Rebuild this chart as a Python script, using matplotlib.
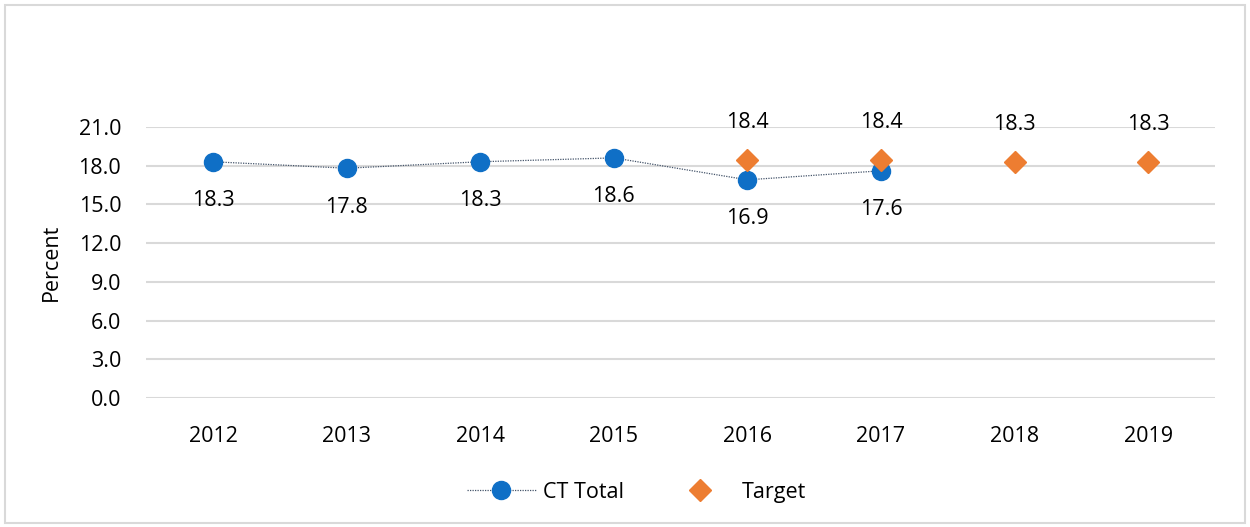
import matplotlib.pyplot as plt
from matplotlib.patches import Rectangle

# Data
years = [2012, 2013, 2014, 2015, 2016, 2017, 2018, 2019]
ct_years = [2012, 2013, 2014, 2015, 2016, 2017]
ct_total = [18.3, 17.8, 18.3, 18.6, 16.9, 17.6]
target_years = [2016, 2017, 2018, 2019]
target = [18.4, 18.4, 18.3, 18.3]
yticks = [0, 3, 6, 9, 12, 15, 18, 21]

plt.rcParams["font.family"] = ["Open Sans", "DejaVu Sans"]
fs = 15.5

fig = plt.figure(figsize=(12.5, 5.27), dpi=100)
ax = fig.add_axes([0.117, 0.2448, 0.855, 0.5144])

# chart frame
fig.patches.append(Rectangle((0.004, 0.008), 0.992, 0.982, transform=fig.transFigure,
                             fill=False, edgecolor="#d9d9d9", linewidth=1.5))

xpos = list(range(len(years)))
ct_x = [years.index(y) for y in ct_years]
tg_x = [years.index(y) for y in target_years]

ax.plot(ct_x, ct_total, linestyle=(0, (1, 1)), color="#44546a", linewidth=0.9,
        marker="o", markersize=13, markerfacecolor="#0f6fc6", markeredgecolor="#0f6fc6",
        label="CT Total", zorder=3)
ax.plot(tg_x, target, linestyle="none", marker="D", markersize=11.5,
        markerfacecolor="#ed7d31", markeredgecolor="#ed7d31", label="Target", zorder=4)

for x, v in zip(ct_x, ct_total):
    ax.annotate(f"{v:.1f}", (x, v), xytext=(0, -28), textcoords="offset points",
                ha="center", va="center", fontsize=fs)
for x, v in zip(tg_x, target):
    ax.annotate(f"{v:.1f}", (x, v), xytext=(0, 27), textcoords="offset points",
                ha="center", va="center", fontsize=fs)

ax.set_xlim(-0.5, len(years) - 0.5)
ax.set_ylim(0, 21)
ax.set_yticks(yticks)
ax.set_yticklabels([f"{t:.1f}" for t in yticks], fontsize=fs)
ax.set_xticks(xpos)
ax.set_xticklabels([str(y) for y in years], fontsize=fs)
ax.tick_params(length=0)
ax.tick_params(axis="y", pad=18)
ax.tick_params(axis="x", pad=20)
ax.set_ylabel("Percent", fontsize=fs, labelpad=12)
ax.grid(axis="y", color="#d9d9d9", linewidth=1.5)
ax.set_axisbelow(True)
for s in ax.spines.values():
    s.set_visible(False)

fig.legend(loc="center", bbox_to_anchor=(0.509, 0.066), ncol=2, frameon=False,
           fontsize=fs, handlelength=3.2, handletextpad=0.35, columnspacing=1.9)

fig.savefig("out.png", dpi=100)
